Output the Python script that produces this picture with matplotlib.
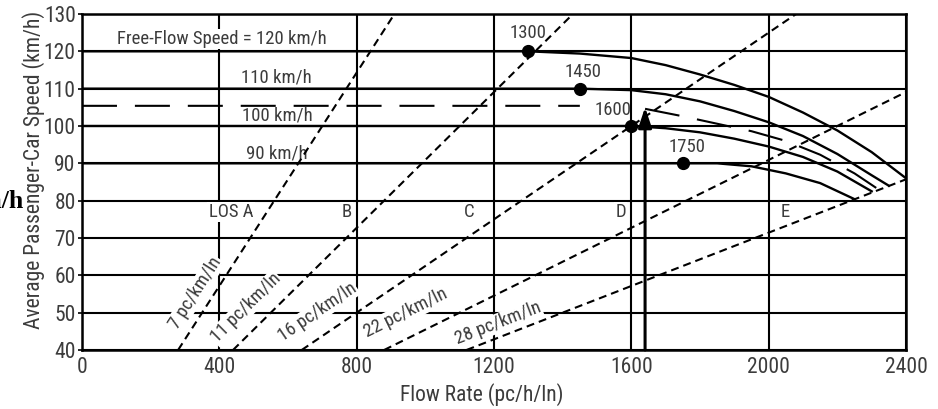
import math
import numpy as np
import matplotlib.pyplot as plt
from matplotlib import font_manager

# pick a condensed sans if one is installed, else Liberation Sans
installed = {f.name for f in font_manager.fontManager.ttflist}
narrow = None
for name in ['Roboto Condensed', 'Liberation Sans Narrow', 'Open Sans Condensed',
             'DejaVu Sans Condensed']:
    if name in installed:
        narrow = name
        break
if narrow:
    plt.rcParams['font.family'] = [narrow, 'DejaVu Sans']
    k = 1.0
else:
    plt.rcParams['font.family'] = ['Liberation Sans', 'DejaVu Sans']
    k = 0.86

# speed-flow curves (flow in pc/h/ln, speed in km/h)
flow_120 = [0, 1300, 1450, 1600, 1700, 1800, 1900, 2000, 2100, 2200, 2300, 2400]
speed_120 = [120, 120, 119.4, 118.2, 116.3, 113.8, 111.0, 107.8, 103.6, 98.8, 93.0, 86.0]

flow_110 = [0, 1450, 1600, 1700, 1800, 1900, 2000, 2100, 2200, 2300, 2350]
speed_110 = [110, 110, 109.6, 108.5, 106.6, 104.0, 101.0, 97.3, 92.5, 86.8, 84.0]

flow_100 = [0, 1600, 1700, 1800, 1900, 2000, 2100, 2200, 2300]
speed_100 = [100, 100, 99.4, 98.3, 96.6, 94.5, 91.7, 87.8, 82.5]

flow_90 = [0, 1750, 1850, 1950, 2050, 2150, 2250]
speed_90 = [90, 90, 90, 89.2, 87.3, 84.7, 80.4]

# the dashed 105 km/h example curve (gap where the "1600" label sits)
flow_105 = [0, 1450, np.nan, 1640, 1750, 1850, 1950, 2050, 2150, 2250, 2320]
speed_105 = [105.4, 105.4, np.nan, 104.6, 102.6, 100.6, 98.6, 96.0, 92.3, 87.3, 83.0]

# breakpoints
bp_flow = [1300, 1450, 1600, 1750]
bp_speed = [120, 110, 100, 90]
bp_label_x = [1300, 1460, 1547, 1762]
bp_label_y = [125, 114.5, 104.3, 94.4]

# density lines
densities = [7, 11, 16, 22, 28]
dens_label_x = [331, 477, 686, 942, 1212]
dens_label_y = [55.3, 51.2, 50.2, 49.9, 47.2]

# LOS letters
los_labels = ['LOS A', 'B', 'C', 'D', 'E']
los_x = [434, 771, 1129, 1569, 2048]
los_y = 77

# free-flow speed labels
ffs_labels = ['Free-Flow Speed = 120 km/h', '110 km/h', '100 km/h', '90 km/h']
ffs_x = [102, 463, 466, 477]
ffs_y = [123.3, 112.9, 102.7, 92.5]

arrow_flow = 1640
arrow_speed = 105

txt = '#3c3c3c'
big = 15.5 * k
small = 13.5 * k

fig = plt.figure(figsize=(9.38, 4.09), dpi=100)
ax = fig.add_axes([0.0874, 0.1443, 0.8785, 0.8215])
ax.set_xlim(0, 2400)
ax.set_ylim(40, 130)
ax.set_xticks(range(0, 2401, 400))
ax.set_yticks(range(40, 131, 10))
ax.grid(True, color='black', lw=1.5)
ax.set_axisbelow(True)
for s in ax.spines.values():
    s.set_linewidth(1.8)
ax.tick_params(axis='y', direction='out', length=3, width=1.2, pad=1.5,
               labelsize=big, labelcolor=txt)
ax.tick_params(axis='x', length=0, pad=5, labelsize=big, labelcolor=txt)

# density lines
for d in densities:
    ax.axline((0, 0), slope=1 / d, ls=(0, (3.8, 2.4)), lw=1.5,
              color='black', zorder=4)

# curves
for f, s in [(flow_120, speed_120), (flow_110, speed_110),
             (flow_100, speed_100), (flow_90, speed_90)]:
    ax.plot(f, s, color='black', lw=1.7, zorder=5)
ax.plot(flow_105, speed_105, color='black', lw=1.5, ls=(0, (16.8, 8.6)), zorder=5)
ax.plot(bp_flow, bp_speed, 'o', ms=8.5, color='black', zorder=6)

ax.annotate('', xy=(arrow_flow, arrow_speed), xytext=(arrow_flow, 40),
            arrowprops=dict(arrowstyle='-|>,head_length=0.6,head_width=0.2',
                            mutation_scale=20, lw=2.2, color='black',
                            shrinkA=0, shrinkB=0), zorder=6)

box = dict(facecolor='white', edgecolor='none', pad=1)
for i, lab in enumerate(ffs_labels):
    ax.text(ffs_x[i], ffs_y[i], lab, ha='left', va='center', fontsize=small,
            color=txt, bbox=box if i == 0 else None, zorder=3)

for i in range(len(bp_flow)):
    ax.text(bp_label_x[i], bp_label_y[i], str(bp_flow[i]), ha='center',
            va='center', fontsize=small, color=txt, zorder=3)

for i, lab in enumerate(los_labels):
    ax.text(los_x[i], los_y, lab, ha='center', va='center', fontsize=small,
            color=txt, bbox=box, zorder=3)

for i, d in enumerate(densities):
    p1 = ax.transData.transform((0, 0))
    p2 = ax.transData.transform((d * 100, 100))
    ang = math.degrees(math.atan2(p2[1] - p1[1], p2[0] - p1[0]))
    ax.text(dens_label_x[i], dens_label_y[i], f'{d} pc/km/ln', rotation=ang,
            rotation_mode='anchor', ha='center', va='center', fontsize=small,
            color=txt, bbox=dict(facecolor='white', edgecolor='none', pad=0.5),
            zorder=3)

ax.set_xlabel('Flow Rate (pc/h/ln)', fontsize=big, color=txt)
ax.xaxis.set_label_coords(0.485, -0.098)
ax.set_ylabel('Average Passenger-Car Speed (km/h)', fontsize=big, color=txt)
ax.yaxis.set_label_coords(-0.045, 0.536)

# clipped leftover text at the left edge of the original image
fig.text(24 / 938, 1 - 208 / 409, 'km/h', ha='right', va='baseline',
         family='Liberation Serif', weight='bold', fontsize=18.5)

plt.savefig('out.png', dpi=100)
